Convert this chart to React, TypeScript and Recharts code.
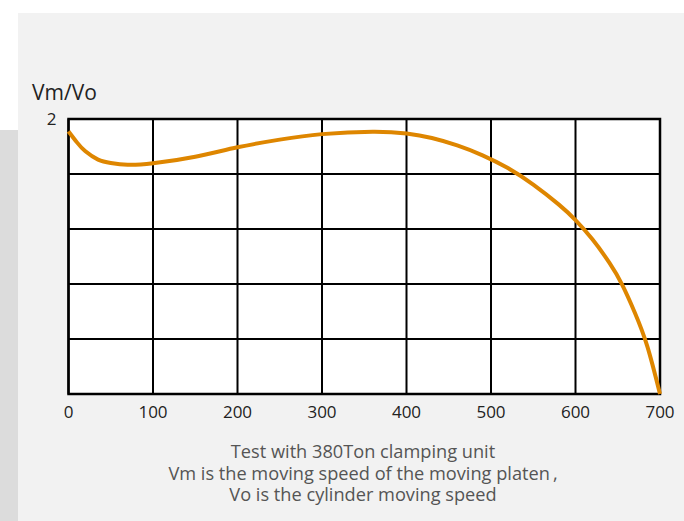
import { LineChart, Line, XAxis, YAxis, CartesianGrid, ReferenceArea } from 'recharts';

const stroke = [0, 10, 20, 35, 50, 70, 100, 150, 200, 250, 300, 360, 400, 430, 460, 490, 520, 550, 580, 600, 620, 640, 655, 670, 685, 700];
const speedRatio = [1.91, 1.83, 1.765, 1.705, 1.68, 1.667, 1.678, 1.726, 1.794, 1.85, 1.89, 1.908, 1.895, 1.862, 1.808, 1.736, 1.643, 1.523, 1.379, 1.265, 1.125, 0.955, 0.7975, 0.595, 0.347, 0];
const xTicks = [0, 100, 200, 300, 400, 500, 600, 700];
const yTicks = [0, 0.4, 0.8, 1.2, 1.6, 2];
const captionLines = [
  'Test with 380Ton clamping unit',
  'Vm is the moving speed of the moving platen\u2009,',
  'Vo is the cylinder moving speed',
];

const data = stroke.map((x, i) => ({ x, v: speedRatio[i] }));

const font = '"Open Sans", "Noto Sans", sans-serif';

export default function App() {
  return (
    <div style={{ position: 'absolute', left: 0, top: 0, width: 684, height: 521, background: '#fff', fontFamily: font, overflow: 'hidden' }}>
      <div style={{ position: 'absolute', left: 18, top: 13, width: 666, height: 508, background: '#f2f2f2' }} />
      <div style={{ position: 'absolute', left: 0, top: 130, width: 18, height: 391, background: '#dcdcdc' }} />
      <div style={{ position: 'absolute', left: 32, top: 80, fontSize: 21, lineHeight: 1.2, color: '#222' }}>Vm/Vo</div>
      <div style={{ position: 'absolute', left: 0, top: 0 }}>
        <LineChart width={684} height={521} data={data} margin={{ top: 119, right: 24, left: 0, bottom: 97 }}>
          <CartesianGrid stroke="#000" strokeWidth={2} fill="#fff" fillOpacity={1} />
          <XAxis
            dataKey="x"
            type="number"
            domain={[0, 700]}
            ticks={xTicks}
            axisLine={false}
            tickLine={false}
            tickMargin={6}
            height={30}
            tick={{ fill: '#222', fontSize: 17, fontFamily: font }}
            interval={0}
          />
          <YAxis
            type="number"
            domain={[0, 2]}
            ticks={yTicks}
            axisLine={false}
            tickLine={false}
            tickMargin={6}
            width={68.5}
            tick={{ fill: '#222', fontSize: 17, fontFamily: font }}
            tickFormatter={(v: number) => (v === 2 ? '2' : '')}
            interval={0}
          />
          <ReferenceArea x1={0} x2={700} y1={0} y2={2} fill="none" stroke="#000" strokeWidth={2.5} fillOpacity={0} />
          <Line
            type="natural"
            dataKey="v"
            stroke="#de8600"
            strokeWidth={4}
            dot={false}
            isAnimationActive={false}
          />
        </LineChart>
      </div>
      <div style={{ position: 'absolute', left: 63, top: 441, width: 600, textAlign: 'center', fontSize: 18.2, lineHeight: '21.5px', color: '#555', whiteSpace: 'nowrap' }}>
        {captionLines[0]}
        <br />
        {captionLines[1]}
        <br />
        {captionLines[2]}
      </div>
    </div>
  );
}
